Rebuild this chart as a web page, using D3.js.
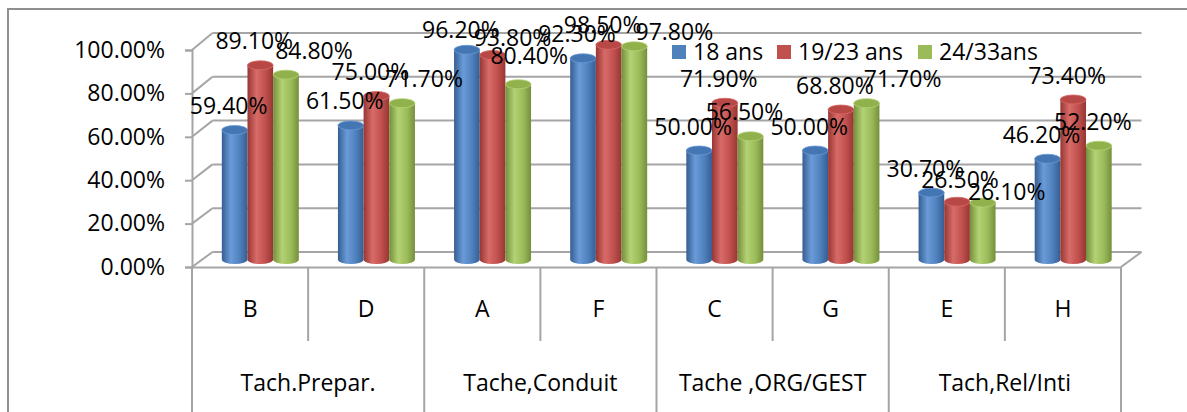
<!DOCTYPE html>
<html>
<head>
<meta charset="utf-8">
<script src="https://cdn.jsdelivr.net/npm/d3@7"></script>
<style>
  html, body { margin: 0; padding: 0; background: #fff; }
  svg { display: block; }
  text { font-family: "Open Sans", "Noto Sans", sans-serif; fill: #000; }
</style>
</head>
<body>
<svg id="chart" width="1187" height="412"></svg>
<script>
// Categories, grouped in pairs under a task heading
const categories = ["B", "D", "A", "F", "C", "G", "E", "H"];
const groupNames = ["Tach.Prepar.", "Tache,Conduit", "Tache ,ORG/GEST", "Tach,Rel/Inti"];
const groupOfCategory = [0, 0, 1, 1, 2, 2, 3, 3];

// Series (percent)
const seriesNames = ["18 ans", "19/23 ans", "24/33ans"];
const ans18 = [59.4, 61.5, 96.2, 92.3, 50.0, 50.0, 30.7, 46.2];
const ans19to23 = [89.1, 75.0, 93.8, 98.5, 71.9, 68.8, 26.5, 73.4];
const ans24to33 = [84.8, 71.7, 80.4, 97.8, 56.5, 71.7, 26.1, 52.2];

// Value axis ticks
const valueTicks = [0, 20, 40, 60, 80, 100];

// Small label nudges so crowded labels stay readable
const nudge18 = [[0,0],[0,0],[0,4],[0,0],[0,0],[0,0],[0,0],[0,0]];
const nudge19to23 = [[0,0],[0,0],[26,7],[0,4],[0,0],[0,0],[9,2],[0,0]];
const nudge24to33 = [[34,0],[28,0],[17,-4],[46,10],[0,0],[42,0],[30,13],[0,0]];

const seriesValues = [ans18, ans19to23, ans24to33];
const seriesNudges = [nudge18, nudge19to23, nudge24to33];
const palette = [
  { dark: "#355e92", light: "#6a9bd8", base: "#4f81bd", top: "#4576b4" },
  { dark: "#963633", light: "#d86b68", base: "#c0504d", top: "#b84845" },
  { dark: "#748f3c", light: "#b3d274", base: "#9bbb59", top: "#91b14d" }
];

const svg = d3.select("#chart");
const gridColor = "#a5a5a5";
const fontSize = 23;

// Plot geometry: front plane and a shallow depth offset for the 3D floor/walls
const left = 192, right = 1121;
const depthX = 20.5, depthY = -15;

const x = d3.scaleBand().domain(categories).range([left, right]).paddingInner(0).paddingOuter(0);
const yFront = d3.scaleLinear().domain([0, 100]).range([267, 50]);
const yBack = d3.scaleLinear().domain([0, 100]).range([252, 33]);
const yMid = d3.scaleLinear().domain([0, 100]).range([259.5, 41.5]);
const groupWidth = x.bandwidth() * 0.663;
const xs = d3.scaleBand().domain(d3.range(seriesNames.length)).range([-groupWidth / 2, groupWidth / 2]);

// Outer frame
svg.append("path")
  .attr("d", "M8,412 L8,9 L1187,9")
  .attr("fill", "none").attr("stroke", "#8f8f8f").attr("stroke-width", 2);

// Back wall gridlines and side-wall diagonals
const grid = svg.append("g").attr("stroke", gridColor).attr("stroke-width", 2).attr("fill", "none");
valueTicks.forEach(v => {
  grid.append("line")
    .attr("x1", left + depthX).attr("x2", right + depthX)
    .attr("y1", yBack(v)).attr("y2", yBack(v));
  grid.append("line")
    .attr("x1", left).attr("x2", left + depthX)
    .attr("y1", yFront(v)).attr("y2", yBack(v));
});
// Right edge of the floor
grid.append("line")
  .attr("x1", right).attr("y1", yFront(0))
  .attr("x2", right + depthX).attr("y2", yBack(0));

// Value axis
const yAxis = svg.append("g")
  .attr("transform", `translate(${left},0)`)
  .call(d3.axisLeft(yFront).tickValues(valueTicks).tickSize(7).tickPadding(20)
    .tickFormat(d => d3.format(".2f")(d) + "%"));
yAxis.select(".domain").attr("stroke", gridColor).attr("stroke-width", 2);
yAxis.selectAll(".tick line").attr("stroke", gridColor).attr("stroke-width", 2);
yAxis.selectAll(".tick text").attr("font-size", fontSize).attr("font-family", "'Open Sans', sans-serif").attr("fill", "#000");

// Category axis: front edge of the floor, dividers and two label levels
const catAxis = svg.append("g")
  .attr("transform", `translate(0,${yFront(0)})`)
  .call(d3.axisBottom(x).tickSize(0).tickPadding(34));
catAxis.select(".domain").attr("stroke", gridColor).attr("stroke-width", 2);
catAxis.selectAll(".tick text").attr("font-size", fontSize).attr("font-family", "'Open Sans', sans-serif").attr("fill", "#000");

const dividers = svg.append("g").attr("stroke", gridColor).attr("stroke-width", 2);
categories.forEach((c, i) => {
  const isGroupEdge = i === 0 || groupOfCategory[i] !== groupOfCategory[i - 1];
  dividers.append("line")
    .attr("x1", x(c)).attr("x2", x(c))
    .attr("y1", yFront(0)).attr("y2", isGroupEdge ? 412 : 341);
});
dividers.append("line").attr("x1", right).attr("x2", right).attr("y1", yFront(0)).attr("y2", 412);

groupNames.forEach((g, gi) => {
  const members = categories.filter((c, i) => groupOfCategory[i] === gi);
  const x0 = x(members[0]);
  const x1 = x(members[members.length - 1]) + x.bandwidth();
  svg.append("text")
    .attr("x", (x0 + x1) / 2).attr("y", 383).attr("dy", "0.35em")
    .attr("text-anchor", "middle").attr("font-size", fontSize)
    .text(g);
});

// Cylinder gradients
const defs = svg.append("defs");
palette.forEach((p, i) => {
  const lg = defs.append("linearGradient").attr("id", "cyl" + i)
    .attr("x1", "0%").attr("x2", "100%").attr("y1", "0%").attr("y2", "0%");
  lg.append("stop").attr("offset", "0%").attr("stop-color", p.dark);
  lg.append("stop").attr("offset", "35%").attr("stop-color", p.light);
  lg.append("stop").attr("offset", "70%").attr("stop-color", p.base);
  lg.append("stop").attr("offset", "100%").attr("stop-color", p.dark);
});

// Bars (cylinders) at mid depth
const bars = svg.append("g");
const ry = 4.5;
categories.forEach((c, ci) => {
  const cx = x(c) + x.bandwidth() / 2 + depthX / 2;
  seriesValues.forEach((vals, si) => {
    const w = xs.bandwidth();
    const x0 = cx + xs(si);
    const x1 = x0 + w;
    const yb = yMid(0), yt = yMid(vals[ci]);
    bars.append("path")
      .attr("d", `M${x0},${yt} L${x0},${yb} A${w / 2},${ry} 0 0 0 ${x1},${yb} L${x1},${yt} Z`)
      .attr("fill", `url(#cyl${si})`);
    bars.append("ellipse")
      .attr("cx", x0 + w / 2).attr("cy", yt).attr("rx", w / 2).attr("ry", ry)
      .attr("fill", palette[si].top)
      .attr("stroke", palette[si].light).attr("stroke-width", 0.8);
  });
});

// Data labels
const labels = svg.append("g");
categories.forEach((c, ci) => {
  const cx = x(c) + x.bandwidth() / 2 + depthX / 2;
  seriesValues.forEach((vals, si) => {
    const w = xs.bandwidth();
    const bx = cx + xs(si) + w / 2;
    const [dx, dy] = seriesNudges[si][ci];
    labels.append("text")
      .attr("x", bx - 6 + dx)
      .attr("y", yMid(vals[ci]) - 24 + dy)
      .attr("dy", "0.35em")
      .attr("text-anchor", "middle")
      .attr("font-size", fontSize)
      .text(d3.format(".2f")(vals[ci]) + "%");
  });
});

// Legend
const legendX = [672, 777, 918];
const legend = svg.append("g");
seriesNames.forEach((s, i) => {
  legend.append("rect")
    .attr("x", legendX[i]).attr("y", 45).attr("width", 14).attr("height", 14)
    .attr("fill", palette[i].base);
  legend.append("text")
    .attr("x", legendX[i] + 21).attr("y", 52).attr("dy", "0.35em")
    .attr("font-size", fontSize)
    .text(s);
});
</script>
</body>
</html>
